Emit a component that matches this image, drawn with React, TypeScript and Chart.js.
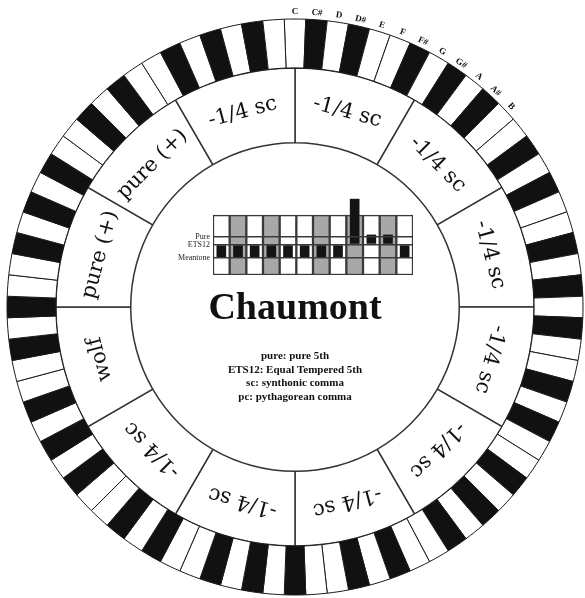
import React, { useEffect, useRef } from 'react';
import { Chart, registerables } from 'chart.js';

Chart.register(...registerables);

// ===== data =====

const KEY_NAMES = ['C', 'C#', 'D', 'D#', 'E', 'F', 'F#', 'G', 'G#', 'A', 'A#', 'B'];
const KEY_IS_BLACK = [false, true, false, true, false, false, true, false, true, false, true, false];
const OCTAVES = 7;

const SECTOR_LABELS = [
  '-1/4 sc', '-1/4 sc', '-1/4 sc', '-1/4 sc', '-1/4 sc', '-1/4 sc',
  '-1/4 sc', '-1/4 sc', 'wolf', 'pure (+)', 'pure (+)', '-1/4 sc',
];
const SECTOR_SIZES = [1, 1, 1, 1, 1, 1, 1, 1, 1, 1, 1, 1];

// deviation of each fifth from ETS12 (cents, clipped for the wolf)
const FIFTH_DEVIATION = [-3.4, -3.4, -3.4, -3.4, -3.4, -3.4, -3.4, -3.4, 12, 2.6, 2.6, -3.4];
const REF_LABELS = ['Pure', 'ETS12', 'Meantone'];
const REF_VALUES = [1.96, 0, -3.42];
const GRID_RANGE = [-8, 7.7];

const TITLE = 'Chaumont';
const NOTES = ['pure: pure 5th', 'ETS12: Equal Tempered 5th', 'sc: synthonic comma', 'pc: pythagorean comma'];

const SERIF = '"Liberation Serif", "DejaVu Serif", serif';
const WIDE_SERIF = '"DejaVu Serif", serif';

// ===== ring texts =====

const ringText = {
  id: 'ringText',
  afterDatasetsDraw(chart: any) {
    const c = chart.ctx;
    const keyArcs = chart.getDatasetMeta(0).data;
    const secArcs = chart.getDatasetMeta(1).data;
    c.save();
    c.fillStyle = '#111';
    c.textAlign = 'center';
    c.textBaseline = 'middle';

    // sector labels
    c.font = `21px ${WIDE_SERIF}`;
    secArcs.forEach((arc: any, i: number) => {
      const { x, y, startAngle, endAngle, innerRadius, outerRadius } = arc.getProps(
        ['x', 'y', 'startAngle', 'endAngle', 'innerRadius', 'outerRadius'], true);
      const mid = (startAngle + endAngle) / 2;
      const r = (innerRadius + outerRadius) / 2;
      c.save();
      c.translate(x + r * Math.cos(mid), y + r * Math.sin(mid));
      c.rotate(mid + Math.PI / 2);
      c.fillText(SECTOR_LABELS[i], 0, 0);
      c.restore();
    });

    // note names over the first octave
    c.font = `bold 9px ${SERIF}`;
    KEY_NAMES.forEach((name, i) => {
      const { x, y, startAngle, endAngle, outerRadius } = keyArcs[i].getProps(
        ['x', 'y', 'startAngle', 'endAngle', 'outerRadius'], true);
      const mid = (startAngle + endAngle) / 2;
      const r = outerRadius + 7;
      c.save();
      c.translate(x + r * Math.cos(mid), y + r * Math.sin(mid));
      c.rotate(mid + Math.PI / 2);
      c.fillText(name, 0, 0);
      c.restore();
    });

    // centre texts
    const { x: cx, y: cy } = secArcs[0].getProps(['x', 'y'], true);
    c.font = `bold 38px ${SERIF}`;
    c.textBaseline = 'alphabetic';
    c.fillText(TITLE, cx, cy + 12);
    c.font = `bold 11px ${SERIF}`;
    c.textBaseline = 'middle';
    NOTES.forEach((t, i) => c.fillText(t, cx, cy + 49 + i * 13.7));
    c.restore();
  },
};

export default function App() {
  const ringRef = useRef<HTMLCanvasElement>(null);
  const barRef = useRef<HTMLCanvasElement>(null);

  useEffect(() => {
    if (!ringRef.current || !barRef.current) return;

    const keyCount = OCTAVES * KEY_NAMES.length;
    const keyValues: number[] = [];
    const keyColors: string[] = [];
    const keyLabels: string[] = [];
    for (let o = 0; o < OCTAVES; o++) {
      KEY_NAMES.forEach((n, i) => {
        keyValues.push(1);
        keyColors.push(KEY_IS_BLACK[i] ? '#111' : '#fff');
        keyLabels.push(n);
      });
    }

    const ring = new Chart(ringRef.current, {
      type: 'doughnut',
      data: {
        labels: keyLabels,
        datasets: [
          {
            data: keyValues,
            backgroundColor: keyColors,
            borderColor: '#1a1a1a',
            borderWidth: 1,
            weight: 49,
            rotation: -180 / keyCount,
          } as any,
          {
            data: SECTOR_SIZES,
            backgroundColor: '#fff',
            borderColor: '#333',
            borderWidth: 1.5,
            weight: 75,
            rotation: 0,
          } as any,
        ],
      },
      options: {
        responsive: false,
        animation: false,
        events: [],
        radius: 288,
        cutout: 164,
        hoverOffset: 0,
        layout: { padding: { left: 7, right: 2, top: 19, bottom: 3 } },
        plugins: { legend: { display: false }, tooltip: { enabled: false } },
      } as any,
      plugins: [ringText],
    });

    const bars = new Chart(barRef.current, {
      type: 'bar',
      data: {
        labels: KEY_NAMES,
        datasets: [
          {
            label: 'fifth',
            data: FIFTH_DEVIATION.map(v => [0, v]),
            backgroundColor: '#141414',
            barPercentage: 0.58,
            categoryPercentage: 1,
            grouped: false,
            order: 1,
          } as any,
          {
            label: 'cells',
            data: KEY_NAMES.map(() => GRID_RANGE),
            backgroundColor: KEY_IS_BLACK.map(b => (b ? '#a8a8a8' : '#fff')),
            borderColor: '#3a3a3a',
            borderWidth: 1.5,
            borderSkipped: false,
            barPercentage: 1,
            categoryPercentage: 1,
            grouped: false,
            order: 2,
          } as any,
        ],
      },
      options: {
        responsive: false,
        animation: false,
        events: [],
        layout: { padding: { left: 0, right: 12, top: 10, bottom: 10 } },
        plugins: { legend: { display: false }, tooltip: { enabled: false } },
        scales: {
          x: { display: false, offset: true },
          y: {
            min: -8,
            max: 13,
            afterFit: (s: any) => { s.width = 63; },
            afterBuildTicks: (s: any) => { s.ticks = REF_VALUES.map(v => ({ value: v })); },
            ticks: {
              autoSkip: false,
              padding: 3,
              color: '#222',
              font: { family: SERIF, size: 8 },
              callback: (_v: any, i: number) => REF_LABELS[i],
            },
            grid: { z: 1, color: '#3a3a3a', lineWidth: 1.5, drawTicks: false },
            border: { display: false },
          },
        },
      } as any,
    });

    return () => {
      ring.destroy();
      bars.destroy();
    };
  }, []);

  return (
    <div style={{ position: 'fixed', left: 0, top: 0, width: 585, height: 598, background: '#fff' }}>
      <canvas ref={ringRef} width={585} height={598}
        style={{ position: 'absolute', left: 0, top: 0, width: 585, height: 598 }} />
      <canvas ref={barRef} width={275} height={100}
        style={{ position: 'absolute', left: 150, top: 185, width: 275, height: 100 }} />
    </div>
  );
}
